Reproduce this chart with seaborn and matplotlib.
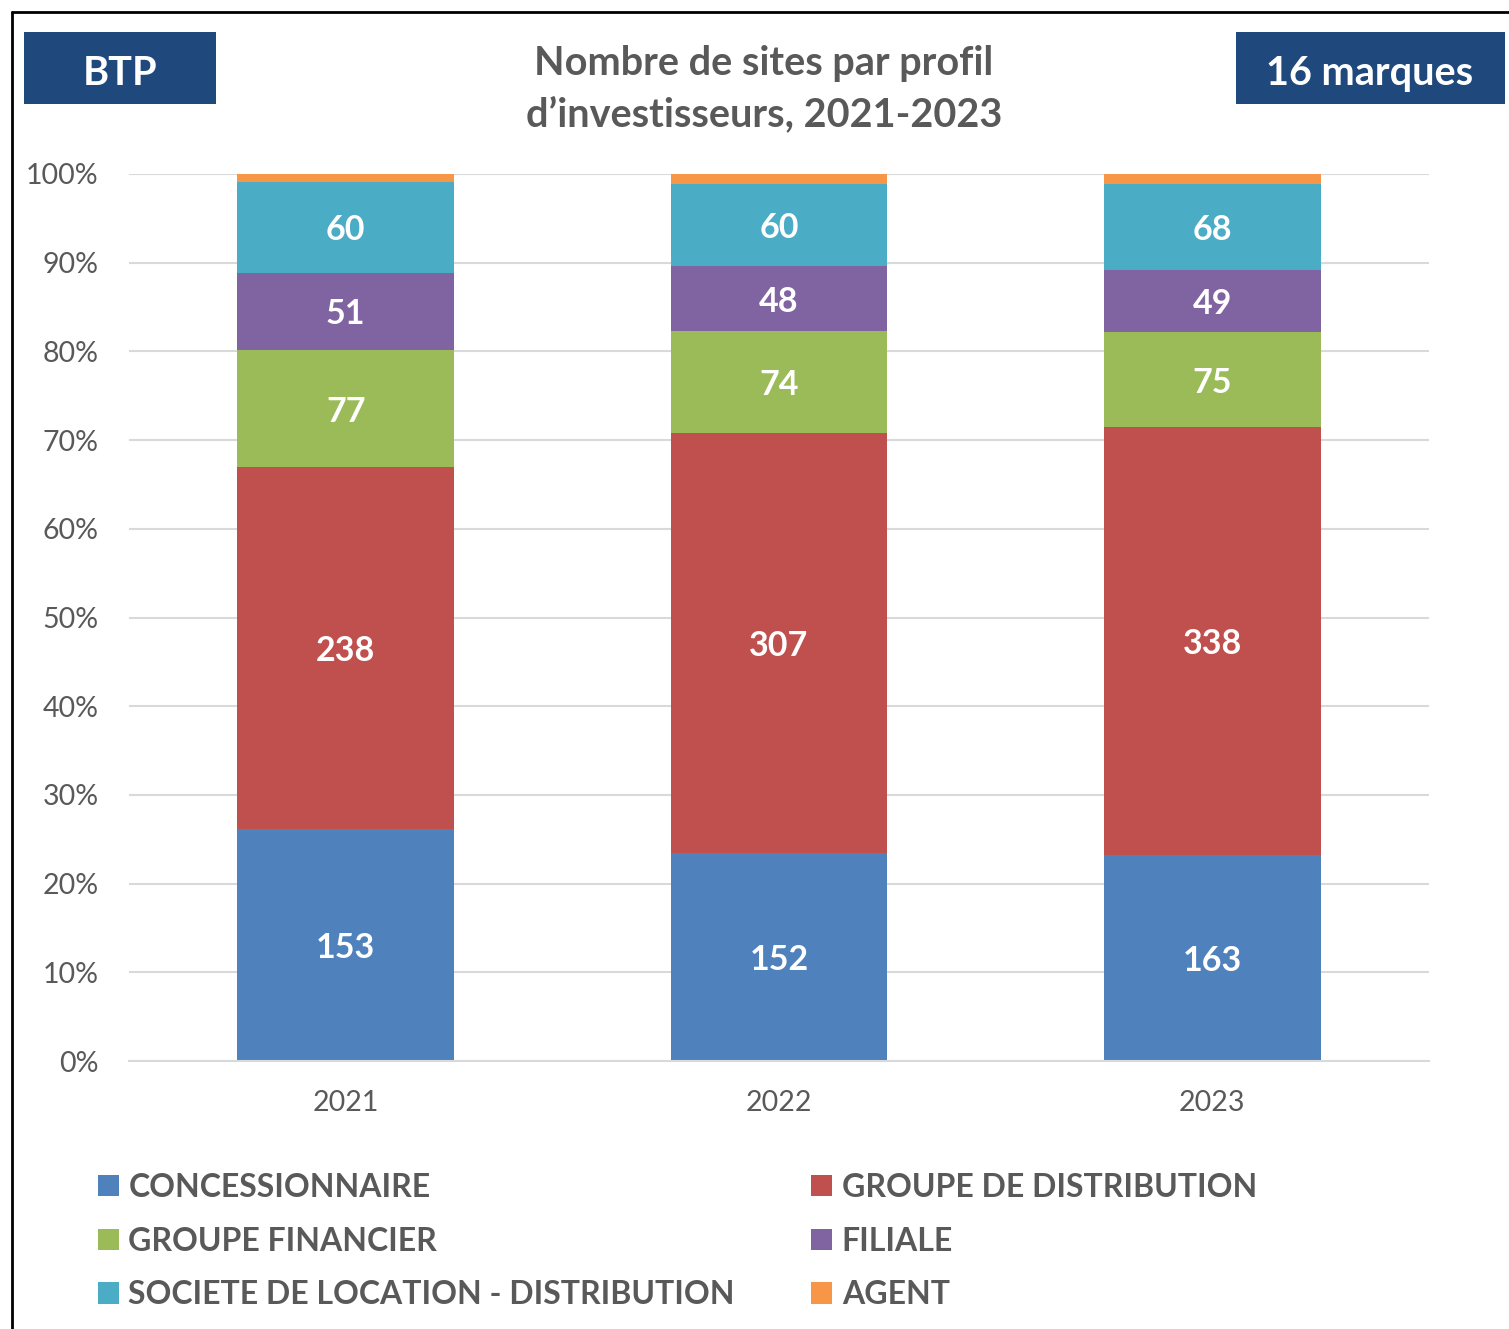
import matplotlib
matplotlib.use("Agg")
import matplotlib.pyplot as plt
from matplotlib.patches import Patch, Rectangle
from matplotlib.lines import Line2D
import numpy as np
import pandas as pd
import seaborn as sns

years = ["2021", "2022", "2023"]
categories = ["CONCESSIONNAIRE", "GROUPE DE DISTRIBUTION", "GROUPE FINANCIER",
              "FILIALE", "SOCIETE DE LOCATION - DISTRIBUTION", "AGENT"]
concessionnaire = [153, 152, 163]
groupe_distribution = [238, 307, 338]
groupe_financier = [77, 74, 75]
filiale = [51, 48, 49]
societe_location = [60, 60, 68]
agent = [5, 7, 8]
colors = ["#4F81BD", "#C0504D", "#9BBB59", "#8064A2", "#4BACC6", "#F79646"]
show_label = [True, True, True, True, True, False]

series = [concessionnaire, groupe_distribution, groupe_financier, filiale, societe_location, agent]

sns.set_style("white")
FONT = "Lato"
plt.rcParams['font.family'] = [FONT, 'DejaVu Sans']
GRAY = "#595959"

vals = np.array(series, dtype=float)
totals = vals.sum(axis=0)
pct = vals / totals * 100
cum = np.cumsum(pct, axis=0)

fig = plt.figure(figsize=(15.09, 13.29), dpi=100)
ax = fig.add_axes([129/1509, 1 - 1061/1329, 1300/1509, 887/1329])

# draw cumulative layers from top down
for i in range(len(categories) - 1, -1, -1):
    df = pd.DataFrame({"year": years, "cum": cum[i]})
    sns.barplot(data=df, x="year", y="cum", color=colors[i], saturation=1,
                width=0.5, linewidth=0, ax=ax, zorder=2)

# labels
for i in range(len(categories)):
    if not show_label[i]:
        continue
    for j in range(len(years)):
        bottom = cum[i][j] - pct[i][j]
        ax.text(j, bottom + pct[i][j] / 2, str(series[i][j]), ha="center", va="center_baseline",
                color="white", fontsize=24.5, fontweight="bold", zorder=3)

ax.set_xlim(-0.5, 2.5)
ax.set_ylim(0, 100)
ax.set_yticks(np.arange(0, 101, 10))
ax.set_yticklabels([f"{v}%" for v in range(0, 101, 10)])
ax.yaxis.grid(True, color="#d9d9d9", linewidth=1.5, zorder=0)
ax.set_axisbelow(True)
ax.set_xlabel("")
ax.set_ylabel("")
for s in ["left", "right", "top"]:
    ax.spines[s].set_visible(False)
ax.spines["bottom"].set_color("#d9d9d9")
ax.spines["bottom"].set_linewidth(1.5)
ax.tick_params(axis="y", length=0, labelsize=20.5, labelcolor=GRAY, pad=22)
ax.tick_params(axis="x", which="major", length=0, labelsize=20.5, labelcolor=GRAY, pad=21)
ax.set_xticks([-0.5, 0.5, 1.5, 2.5], minor=True)
ax.tick_params(axis="x", which="minor", length=9, color="#d9d9d9", width=1.5)

# title
fig.text(764/1509, 1 - 89/1329, "Nombre de sites par profil\nd\u2019investisseurs, 2021-2023",
         ha="center", va="center", fontsize=28.5, fontweight="bold", color=GRAY, linespacing=1.5)

# boxes
fig.add_artist(Rectangle((24/1509, 1 - 104/1329), 192/1509, 72/1329, transform=fig.transFigure,
                         facecolor="#1F497D", edgecolor="none"))
fig.text(120/1509, 1 - 70/1329, "BTP", ha="center", va="center_baseline", fontsize=28.5,
         fontweight="bold", color="white")
fig.add_artist(Rectangle((1236/1509, 1 - 104/1329), 269/1509, 72/1329, transform=fig.transFigure,
                         facecolor="#1F497D", edgecolor="none"))
fig.text(1370/1509, 1 - 70/1329, "16 marques", ha="center", va="center_baseline", fontsize=28.5,
         fontweight="bold", color="white")

# frame
fig.add_artist(Line2D([12/1509, 12/1509], [0, 1 - 12/1329], transform=fig.transFigure,
                      color="black", linewidth=2))
fig.add_artist(Line2D([12/1509, 1], [1 - 12/1329, 1 - 12/1329], transform=fig.transFigure,
                      color="black", linewidth=2))

# legend
handles = [Patch(facecolor=c, edgecolor="none", label=l) for c, l in zip(colors, categories)]
order = [0, 2, 4, 1, 3, 5]
leg = fig.legend([handles[k] for k in order], [categories[k] for k in order], ncol=2,
                 loc="upper left", bbox_to_anchor=(82/1509, 1 - 1157/1329), frameon=False,
                 prop={"family": [FONT, "DejaVu Sans"], "weight": "bold", "size": 23},
                 handlelength=0.65, handleheight=0.65, handletextpad=0.3,
                 labelspacing=0.77, columnspacing=2.4, borderpad=0)
for t in leg.get_texts():
    t.set_color(GRAY)

fig.savefig("out.png", dpi=100, facecolor="white")
